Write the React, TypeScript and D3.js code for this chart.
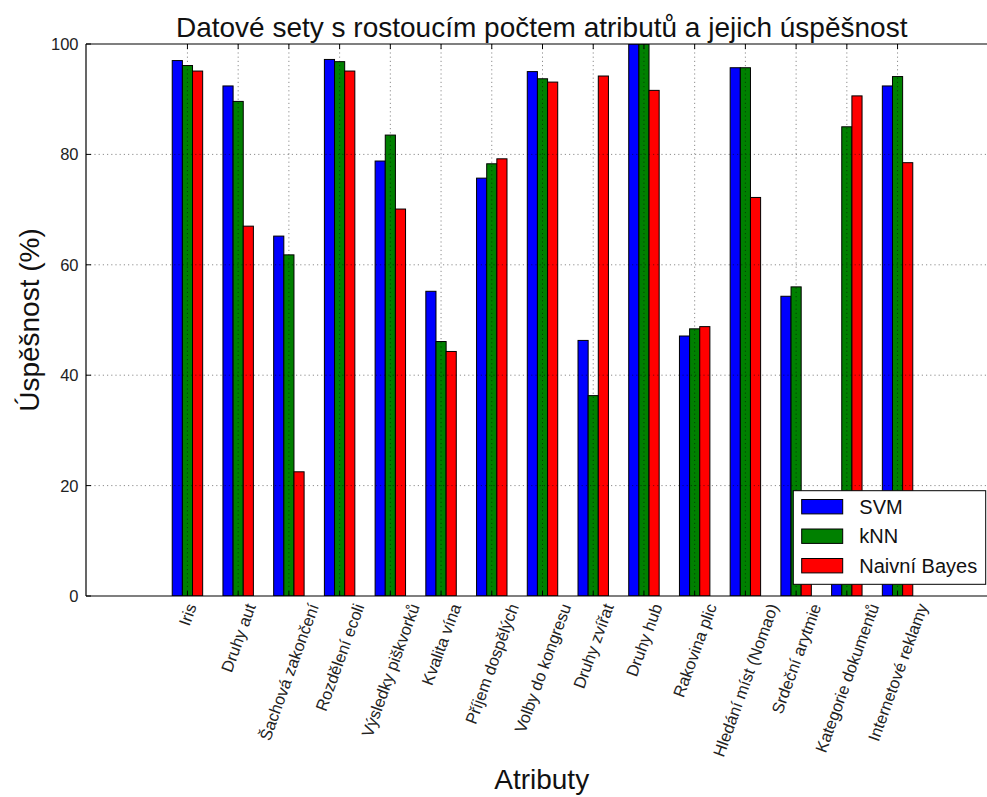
import React, { useMemo } from "react";
import * as d3 from "d3";

const categories = [
  "Iris",
  "Druhy aut",
  "Šachová zakončení",
  "Rozdělení ecoli",
  "Výsledky piškvorků",
  "Kvalita vína",
  "Příjem dospělých",
  "Volby do kongresu",
  "Druhy zvířat",
  "Druhy hub",
  "Rakovina plic",
  "Hledání míst (Nomao)",
  "Srdeční arytmie",
  "Kategorie dokumentů",
  "Internetové reklamy",
];
const svmValues = [97.0, 92.4, 65.2, 97.2, 78.8, 55.2, 75.7, 95.0, 46.3, 100, 47.1, 95.7, 54.3, 12, 92.4];
const knnValues = [96.1, 89.6, 61.8, 96.8, 83.5, 46.1, 78.3, 93.7, 36.3, 100, 48.4, 95.7, 56.0, 85.0, 94.1];
const nbValues = [95.1, 67.0, 22.5, 95.1, 70.1, 44.3, 79.2, 93.1, 94.2, 91.6, 48.8, 72.2, 8, 90.6, 78.5];
const seriesNames = ["SVM", "kNN", "Naivní Bayes"];
const seriesColors = ["#0000ff", "#008000", "#ff0000"];
const yTicks = [0, 20, 40, 60, 80, 100];

const W = 987;
const H = 797;
const FONT = "'Liberation Sans', Arial, sans-serif";
const left = 86, top = 44, bottom = 596, right = 999;
const BAR_W = 0.2;
const ROT = 70;
const TICK_FS = 16.5;

function measure(text: string, size: number) {
  const c = document.createElement("canvas");
  const ctx = c.getContext("2d")!;
  ctx.font = `${size}px 'Liberation Sans', Arial, sans-serif`;
  return ctx.measureText(text).width;
}

export default function App() {
  const x = d3.scaleLinear().domain([-2, 16]).range([left, right]);
  const y = d3.scaleLinear().domain([0, 100]).range([bottom, top]);
  const series = [svmValues, knnValues, nbValues];
  const bw = x(BAR_W) - x(0);

  const labelW = useMemo(() => categories.map((c) => measure(c, TICK_FS)), []);
  const rad = (ROT * Math.PI) / 180;
  const lh = TICK_FS * 1.15;

  return (
    <svg width={W} height={H} style={{ position: "absolute", left: 0, top: 0, background: "#fff", overflow: "hidden" }}>
      <defs>
        <clipPath id="plot">
          <rect x={left} y={top} width={right - left} height={bottom - top} />
        </clipPath>
      </defs>
      <rect x={0} y={0} width={W} height={H} fill="#fff" />
      {/* bars */}
      <g clipPath="url(#plot)">
        {series.map((vals, s) =>
          vals.map((v, i) => (
            <rect
              key={`${s}-${i}`}
              x={x(i - 0.3 + BAR_W * s)}
              y={y(v)}
              width={bw}
              height={y(0) - y(v)}
              fill={seriesColors[s]}
              stroke="#000"
              strokeWidth={1}
            />
          ))
        )}
      </g>
      {/* grid */}
      <g stroke="#000" strokeWidth={0.6} strokeDasharray="1.2,3" opacity={0.75}>
        {yTicks.slice(1, -1).map((t) => (
          <line key={`gy${t}`} x1={left} x2={W} y1={y(t)} y2={y(t)} />
        ))}
        {categories.map((c, i) => (
          <line key={`gx${i}`} x1={x(i)} x2={x(i)} y1={top} y2={bottom} />
        ))}
      </g>
      {/* ticks */}
      <g stroke="#000" strokeWidth={1}>
        {yTicks.map((t) => (
          <line key={`ty${t}`} x1={left} x2={left + 5} y1={y(t)} y2={y(t)} />
        ))}
        {categories.map((c, i) => (
          <g key={`tx${i}`}>
            <line x1={x(i)} x2={x(i)} y1={bottom} y2={bottom - 5} />
            <line x1={x(i)} x2={x(i)} y1={top} y2={top + 5} />
          </g>
        ))}
      </g>
      {/* spines (right spine lies outside the picture) */}
      <g stroke="#000" strokeWidth={1.2}>
        <line x1={left} x2={W} y1={top} y2={top} />
        <line x1={left} x2={W} y1={bottom} y2={bottom} />
        <line x1={left} x2={left} y1={top} y2={bottom} />
      </g>
      {/* y tick labels */}
      <g fontFamily={FONT} fontSize={TICK_FS} fill="#222">
        {yTicks.map((t) => (
          <text key={`yl${t}`} x={left - 7.5} y={y(t)} textAnchor="end" dominantBaseline="central">
            {t}
          </text>
        ))}
      </g>
      {/* x tick labels */}
      <g fontFamily={FONT} fontSize={TICK_FS} fill="#222">
        {categories.map((c, i) => {
          const w = labelW[i];
          const bh = w * Math.sin(rad) + lh * Math.cos(rad);
          const cx = x(i);
          const cy = 601 + bh / 2;
          return (
            <text
              key={`xl${i}`}
              x={cx}
              y={cy}
              textAnchor="middle"
              dominantBaseline="central"
              transform={`rotate(${-ROT},${cx},${cy})`}
            >
              {c}
            </text>
          );
        })}
      </g>
      {/* title & axis labels */}
      <text x={541.7} y={37} textAnchor="middle" fontFamily={FONT} fontSize={28} fill="#111">
        Datové sety s rostoucím počtem atributů a jejich úspěšnost
      </text>
      <text x={541.7} y={789} textAnchor="middle" fontFamily={FONT} fontSize={28} fill="#111">
        Atributy
      </text>
      <text
        x={38.5}
        y={(top + bottom) / 2}
        textAnchor="middle"
        fontFamily={FONT}
        fontSize={28}
        fill="#111"
        transform={`rotate(-90,38.5,${(top + bottom) / 2})`}
      >
        Úspěšnost (%)
      </text>
      {/* legend */}
      <g>
        <rect x={793.3} y={490.7} width={192.4} height={93.6} fill="#fff" stroke="#000" strokeWidth={1} />
        {seriesNames.map((n, s) => {
          const cy = 506.7 + s * 29.5;
          return (
            <g key={n}>
              <rect x={801.7} y={cy - 7.2} width={41} height={14.4} fill={seriesColors[s]} stroke="#000" strokeWidth={1} />
              <text x={859.3} y={cy + 7} fontFamily={FONT} fontSize={20} fill="#111">
                {n}
              </text>
            </g>
          );
        })}
      </g>
    </svg>
  );
}
